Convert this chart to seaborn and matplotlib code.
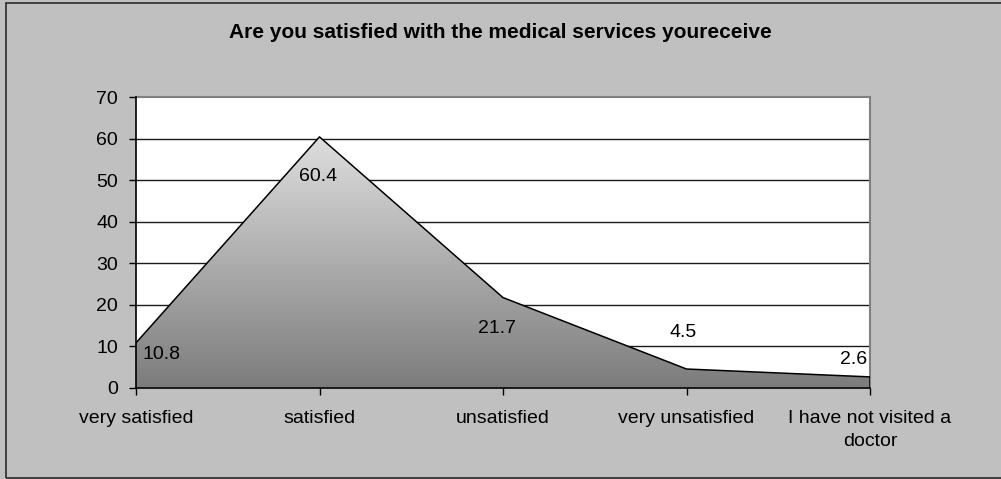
import numpy as np
import pandas as pd
import matplotlib
matplotlib.use("Agg")
import matplotlib.pyplot as plt
from matplotlib.patches import Rectangle
from matplotlib.colors import LinearSegmentedColormap
import seaborn as sns

# Survey data
categories = ["very satisfied", "satisfied", "unsatisfied", "very unsatisfied",
              "I have not visited a\ndoctor"]
values = [10.8, 60.4, 21.7, 4.5, 2.6]
y_ticks = [0, 10, 20, 30, 40, 50, 60, 70]
title = "Are you satisfied with the medical services youreceive"

sns.set_style("white")
plt.rcParams["font.family"] = ["Liberation Sans", "DejaVu Sans"]

W, H, DPI = 1001, 479, 100
FS = 14
fig = plt.figure(figsize=(W / DPI, H / DPI), dpi=DPI)
fig.patch.set_facecolor("#C0C0C0")

# outer chart border
fig.add_artist(Rectangle((6 / W, 1 - 478 / H), 1.2, (478 - 3) / H,
                         transform=fig.transFigure, fill=False,
                         edgecolor="#2a2a2a", linewidth=1.2))

left, right, top, bottom = 136, 870, 97, 387.7
ax = fig.add_axes([left / W, 1 - bottom / H, (right - left) / W, (bottom - top) / H])
ax.set_facecolor("white")

df = pd.DataFrame({"pos": np.arange(len(values)), "value": values})

# horizontal gridlines
for t in y_ticks[1:-1]:
    ax.axhline(t, color="#1a1a1a", linewidth=1.0, zorder=1)

# gradient-filled area under the line
poly = ax.fill_between(df["pos"], df["value"], 0, facecolor="none", edgecolor="none", zorder=2)
cmap = LinearSegmentedColormap.from_list("g", ["#7c7c7c", "#dedede"])
grad = np.linspace(0, 1, 256).reshape(-1, 1)
img = ax.imshow(grad, cmap=cmap, origin="lower", aspect="auto",
                extent=[0, len(values) - 1, 0, max(values)], zorder=2)
path = poly.get_paths()[0]
img.set_clip_path(path, transform=ax.transData)

sns.lineplot(data=df, x="pos", y="value", color="black", linewidth=1.1, ax=ax, zorder=3)
ax.plot([len(values) - 1, len(values) - 1], [0, values[-1]], color="black", linewidth=1.1, zorder=3)

ax.set_xlim(0, len(values) - 1)
ax.set_ylim(0, 70)
ax.set_yticks(y_ticks)
ax.set_xticks(df["pos"])
ax.set_xticklabels(categories, linespacing=1.45)
ax.set_xlabel("")
ax.set_ylabel("")

for s in ["top", "right"]:
    ax.spines[s].set_color("#808080")
    ax.spines[s].set_linewidth(1.5)
for s in ["left", "bottom"]:
    ax.spines[s].set_color("black")
    ax.spines[s].set_linewidth(1.2)
    ax.spines[s].set_zorder(4)

ax.tick_params(axis="both", direction="out", length=5, width=1, color="black",
               labelsize=FS, labelcolor="black")
ax.tick_params(axis="y", pad=8, left=True)
ax.tick_params(axis="x", pad=11, bottom=True)

# value labels
offsets = [(7, -12, "left"), (-1, -40, "center"), (-6, -31, "center"),
           (-3, 37, "center"), (-16, 17, "center")]
for i, v in enumerate(values):
    dx, dy, ha = offsets[i]
    ax.annotate(f"{v}", (i, v), xytext=(dx, dy), textcoords="offset pixels",
                ha=ha, va="center", fontsize=FS, color="black", zorder=5,
                annotation_clip=False)

fig.text(0.5, 1 - 32 / H, title, ha="center", va="center", fontsize=15,
         fontweight="bold", color="black")

fig.savefig("out.png", dpi=DPI, facecolor=fig.get_facecolor())
